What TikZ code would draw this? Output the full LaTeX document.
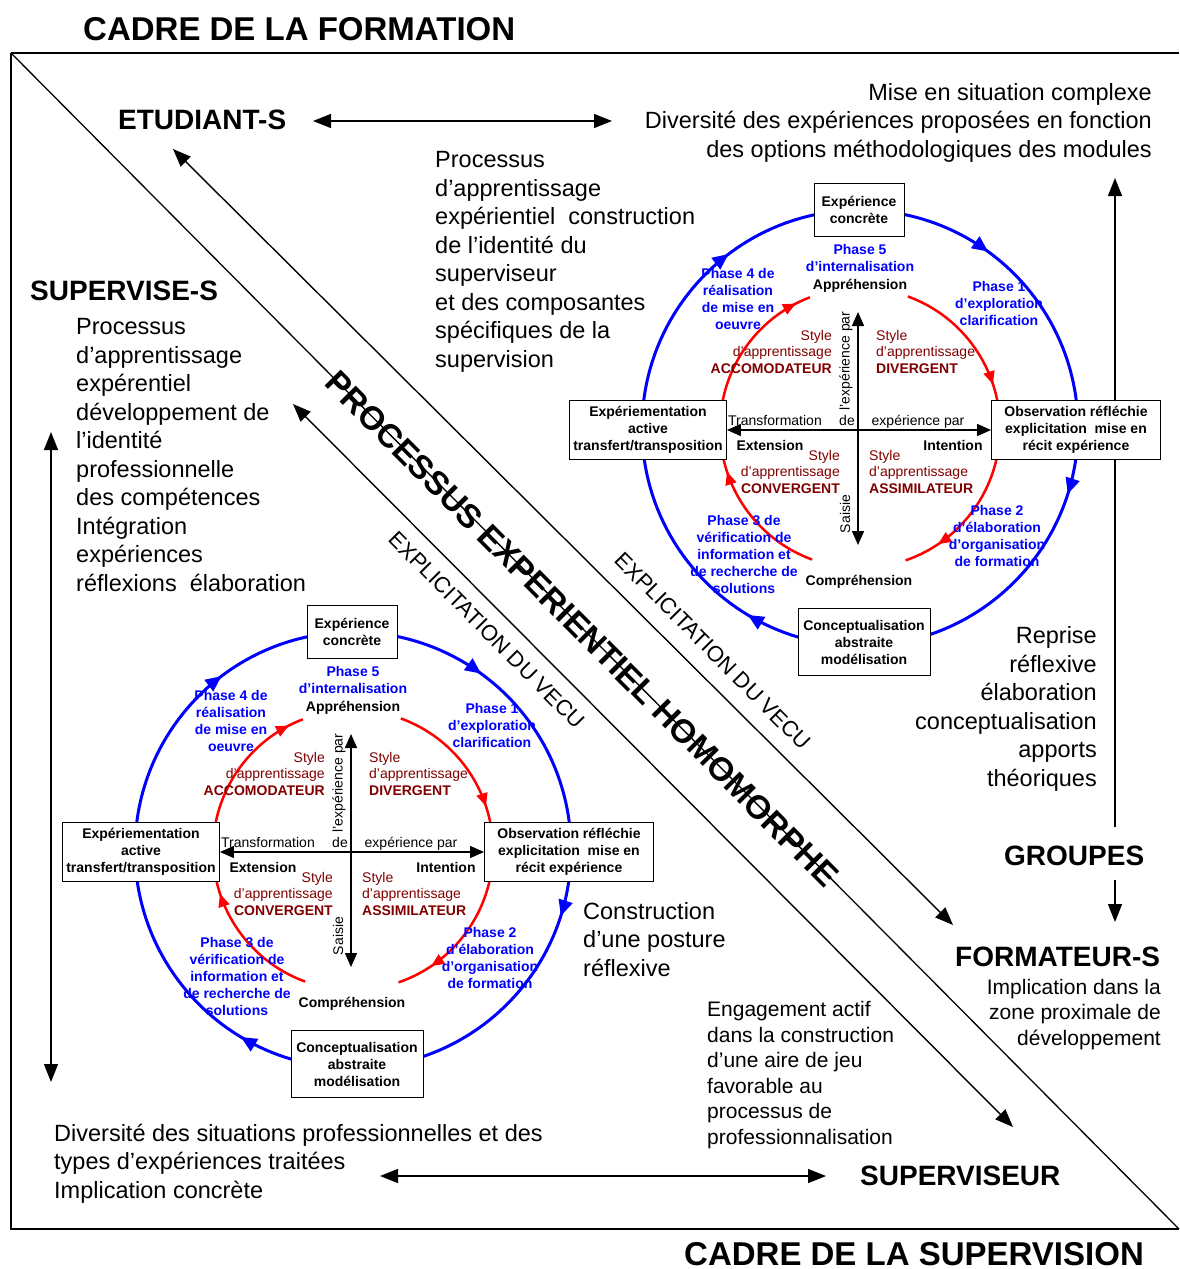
\documentclass[tikz,border=0pt]{standalone}
\usepackage{fontspec}
\setmainfont{Liberation Sans}
\usetikzlibrary{arrows.meta}
\usetikzlibrary{decorations.markings}

\definecolor{phaseblue}{RGB}{0,0,255}
\definecolor{cyclered}{RGB}{255,0,0}
\definecolor{stylered}{RGB}{128,0,0}

\tikzset{
  framelines/.style={line width=1.3pt},
  title/.style={font=\fontsize{33}{38}\selectfont\bfseries, inner sep=0pt},
  head/.style={font=\fontsize{28}{32}\selectfont\bfseries, inner sep=0pt},
  txt/.style={font=\fontsize{23.5}{28.5}\selectfont, inner sep=0pt},
  smalltxt/.style={font=\fontsize{21}{25.5}\selectfont, inner sep=0pt},
  diagtxt/.style={font=\fontsize{22}{26}\selectfont, inner sep=0pt, rotate=-45.2},
  kbox/.style={draw, fill=white, line width=0.9pt, inner sep=1pt,
    font=\fontsize{14}{17}\selectfont\bfseries, align=center},
  phase/.style={text=phaseblue, font=\fontsize{14}{17}\selectfont\bfseries,
    align=center, inner sep=0pt},
  stylelbl/.style={text=stylered, font=\fontsize{14}{16.5}\selectfont, inner sep=0pt},
  axlbl/.style={font=\fontsize{14}{17}\selectfont, inner sep=0pt},
  dblarrow/.style={line width=1.4pt,
    {Triangle[length=18pt,width=14pt]}-{Triangle[length=18pt,width=14pt]}},
  onearrow/.style={line width=1.4pt, -{Triangle[length=18pt,width=14pt]}},
  axarrow/.style={line width=1.5pt,
    {Triangle[length=14pt,width=12pt]}-{Triangle[length=14pt,width=12pt]}},
  bluecircle/.style={color=phaseblue, line width=3pt, postaction={decorate},
    decoration={markings,
      mark=at position 0.049 with {\arrow{Triangle[length=16pt,width=14pt]}},
      mark=at position 0.336 with {\arrow{Triangle[length=16pt,width=14pt]}},
      mark=at position 0.647 with {\arrow{Triangle[length=16pt,width=14pt]}},
      mark=at position 0.850 with {\arrow{Triangle[length=16pt,width=14pt]}}}},
  redarc/.style={color=cyclered, line width=2.5pt, postaction={decorate},
    decoration={markings,
      mark=at position #1 with {\arrow{Triangle[length=13pt,width=11pt]}}}}
}

% one learning cycle: #1 name prefix, #2 #3 centre
\newcommand{\kolbcycle}[3]{%
  \begin{scope}[shift={(#2,#3)}]
    \draw[bluecircle] (0,0) circle[radius=218];
    \draw[redarc=0.91] (0,0) ++(-180:140) arc[start angle=-180, end angle=-111, radius=140];
    \draw[redarc=0.74] (0,0) ++(-70:140) arc[start angle=-70, end angle=0, radius=140];
    \draw[redarc=0.79] (0,0) ++(0:140) arc[start angle=0, end angle=71, radius=140];
    \draw[redarc=0.74] (0,0) ++(110:140) arc[start angle=110, end angle=180, radius=140];
    % boxes
    \node (#1-top) at (-1,-218) [kbox, minimum width=90pt, minimum height=53pt]
      {Expérience\\concrète};
    \node (#1-left) at (-212,2) [kbox, minimum width=157pt, minimum height=59pt]
      {Expériementation\\active\\transfert/transposition};
    \node (#1-right) at (216,2) [kbox, minimum width=169pt, minimum height=59pt]
      {Observation réfléchie\\explicitation~ mise en\\récit expérience};
    \node (#1-bottom) at (4,214) [kbox, minimum width=132pt, minimum height=67pt]
      {Conceptualisation\\abstraite\\modélisation};
    % axes
    \coordinate (#1-up) at (-2,-116);
    \coordinate (#1-dn) at (-2,117);
    \draw[axarrow] (#1-left.east) -- (#1-right.west);
    \draw[axarrow] (#1-up) -- (#1-dn);
    \node (#1-transf) at (-85,-3) [axlbl, anchor=base] {Transformation};
    \node (#1-de) at (-13,-3) [axlbl, anchor=base] {de};
    \node (#1-exppar) at (-14,-67) [axlbl, rotate=90] {l'expérience par};
    \node (#1-exp) at (58,-3) [axlbl, anchor=base] {expérience par};
    \node (#1-ext) at (-90,22) [axlbl, anchor=base, font=\fontsize{14}{17}\selectfont\bfseries] {Extension};
    \node (#1-int) at (93,22) [axlbl, anchor=base, font=\fontsize{14}{17}\selectfont\bfseries] {Intention};
    \node (#1-saisie) at (-15,86) [axlbl, rotate=90] {Saisie};
    \node (#1-appr) at (0,-139) [axlbl, anchor=base, font=\fontsize{14}{17}\selectfont\bfseries] {Appréhension};
    \node (#1-compr) at (-1,157) [axlbl, anchor=base, font=\fontsize{14}{17}\selectfont\bfseries] {Compréhension};
    % phases (base = last line)
    \node (#1-p5) at (0,-157) [phase, anchor=base] {Phase 5\\d’internalisation};
    \node (#1-p4) at (-122,-99) [phase, anchor=base] {Phase 4 de\\réalisation\\de mise en\\oeuvre};
    \node (#1-p1) at (139,-103) [phase, anchor=base] {Phase 1\\d’exploration\\clarification};
    \node (#1-p3) at (-116,165) [phase, anchor=base] {Phase 3 de\\vérification de\\information et\\de recherche de\\solutions};
    \node (#1-p2) at (137,138) [phase, anchor=base] {Phase 2\\d’élaboration\\d’organisation\\de formation};
    % styles
    \node (#1-acc) at (-28,-55) [stylelbl, align=right, anchor=base east]
      {Style\\d’apprentissage\\\textbf{ACCOMODATEUR}};
    \node (#1-div) at (16,-55) [stylelbl, align=left, anchor=base west]
      {Style\\d’apprentissage\\\textbf{DIVERGENT}};
    \node (#1-conv) at (-20,65) [stylelbl, align=right, anchor=base east]
      {Style\\d’apprentissage\\\textbf{CONVERGENT}};
    \node (#1-ass) at (9,65) [stylelbl, align=left, anchor=base west]
      {Style\\d’apprentissage\\\textbf{ASSIMILATEUR}};
  \end{scope}}

\begin{document}
\begin{tikzpicture}[x=1pt, y=-1pt]
  \useasboundingbox (0,0) rectangle (1179,1269);

  % cadre
  \draw[framelines] (11,53) -- (1179,53);
  \draw[framelines] (11,53) -- (11,1229) -- (1179,1229);
  \draw[framelines] (11,53) -- (1179,1229);

  \node (formation) at (83,40) [title, anchor=base west] {CADRE DE LA FORMATION};
  \node (supervision) at (684,1265) [title, anchor=base west] {CADRE DE LA SUPERVISION};

  \node (etudiants) at (118,129) [head, anchor=base west] {ETUDIANT-S};
  \node (supervises) at (30,300) [head, anchor=base west] {SUPERVISE-S};
  \node (groupes) at (1004,865) [head, anchor=base west] {GROUPES};
  \node (formateurs) at (955,966) [head, anchor=base west] {FORMATEUR-S};
  \node (superviseur) at (860,1185) [head, anchor=base west] {SUPERVISEUR};

  % base of each block = its last line
  \node (situation) at (1152,157) [txt, align=right, anchor=base east]
    {Mise en situation complexe\\Diversité des expériences proposées en fonction\\des options méthodologiques des modules};
  \node (identsup) at (435,367) [txt, align=left, anchor=base west]
    {Processus\\d’apprentissage\\expérientiel~ construction\\de l’identité du\\superviseur\\et des composantes\\spécifiques de la\\supervision};
  \node (identpro) at (76,591) [txt, align=left, anchor=base west]
    {Processus\\d’apprentissage\\expérentiel\\développement de\\l’identité\\professionnelle\\des compétences\\Intégration\\expériences\\réflexions~ élaboration};
  \node (reprise) at (1097,786) [txt, align=right, anchor=base east]
    {Reprise\\réflexive\\élaboration\\conceptualisation\\apports\\théoriques};
  \node (zone) at (1161,1045) [smalltxt, align=right, anchor=base east]
    {Implication dans la\\zone proximale de\\développement};
  \node (posture) at (583,976) [txt, align=left, anchor=base west]
    {Construction\\d’une posture\\réflexive};
  \node (engagement) at (707,1144) [smalltxt, align=left, anchor=base west]
    {Engagement actif\\dans la construction\\d’une aire de jeu\\favorable au\\processus de\\professionnalisation};
  \node (diversite) at (54,1198) [txt, align=left, anchor=base west]
    {Diversité des situations professionnelles et des\\types d’expériences traitées\\Implication concrète};

  % textes en diagonale
  \node (homomorphe) at (582,629) [font=\fontsize{33}{37}\selectfont\bfseries, rotate=-45.2, inner sep=0pt]
    {PROCESSUS EXPERIENTIEL HOMOMORPHE};
  \node (explicit-haut) at (713,651) [diagtxt] {EXPLICITATION DU VECU};
  \node (explicit-bas) at (487,630) [diagtxt] {EXPLICITATION DU VECU};

  % fleches
  \coordinate (etu-e) at (313,121);
  \coordinate (sit-w) at (612,121);
  \coordinate (sup-e) at (380,1176);
  \coordinate (superv-w) at (826,1176);
  \coordinate (gauche-haut) at (51,432);
  \coordinate (gauche-bas) at (51,1082);
  \coordinate (groupes-n) at (1115,827);
  \coordinate (situation-s) at (1115,178);
  \coordinate (groupes-s) at (1115,880);
  \coordinate (formateurs-n) at (1115,922);
  \coordinate (diag-etu) at (173,149);
  \coordinate (diag-form) at (953,925);
  \coordinate (diag-sup) at (293,404);
  \coordinate (diag-superv) at (1013,1127);

  \draw[dblarrow] (etu-e) -- (sit-w);
  \draw[dblarrow] (sup-e) -- (superv-w);
  \draw[dblarrow] (gauche-haut) -- (gauche-bas);
  \draw[onearrow] (groupes-n) -- (situation-s);
  \draw[onearrow] (groupes-s) -- (formateurs-n);
  \draw[dblarrow] (diag-etu) -- (diag-form);
  \draw[dblarrow] (diag-sup) -- (diag-superv);

  % cycles
  \kolbcycle{tr}{860}{428}
  \kolbcycle{bl}{353}{850}
\end{tikzpicture}
\end{document}
